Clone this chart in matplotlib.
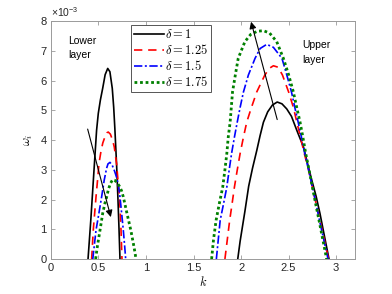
import matplotlib
matplotlib.use("Agg")
import matplotlib.pyplot as plt

# growth rate omega_i (units of 1e-3) vs wavenumber k
# lower-layer branch
k_low_1 = [0.39, 0.42, 0.45, 0.48, 0.498, 0.52, 0.544, 0.57, 0.597, 0.62, 0.645,
           0.66, 0.672, 0.69, 0.705, 0.716, 0.726]
w_low_1 = [0.0, 1.35, 2.85, 4.33, 4.9, 5.35, 5.74, 6.2, 6.41, 6.3, 5.74,
           5.1, 4.4, 3.2, 2.0, 1.0, 0.0]
k_low_125 = [0.428, 0.445, 0.46, 0.474, 0.49, 0.505, 0.525, 0.545, 0.568, 0.59,
             0.603, 0.625, 0.648, 0.666, 0.69, 0.705, 0.72, 0.73, 0.737, 0.747]
w_low_125 = [0.0, 0.97, 1.55, 2.09, 2.65, 3.21, 3.6, 3.9, 4.11, 4.25,
             4.27, 4.2, 4.0, 3.77, 3.21, 2.65, 2.09, 1.5, 0.97, 0.0]
k_low_15 = [0.44, 0.474, 0.505, 0.533, 0.56, 0.585, 0.60, 0.621, 0.645, 0.67,
            0.69, 0.709, 0.726, 0.745, 0.761, 0.775, 0.786]
w_low_15 = [0.0, 0.97, 1.55, 2.09, 2.65, 3.05, 3.2, 3.25, 3.15, 2.95,
            2.75, 2.5, 2.09, 1.5, 0.97, 0.45, 0.0]
k_low_175 = [0.47, 0.487, 0.516, 0.544, 0.566, 0.586, 0.605, 0.627, 0.649, 0.67,
             0.695, 0.72, 0.742, 0.761, 0.78, 0.80, 0.82, 0.84, 0.874, 0.895]
w_low_175 = [0.0, 0.4, 0.97, 1.53, 1.85, 2.09, 2.35, 2.55, 2.67, 2.65,
             2.57, 2.45, 2.3, 2.09, 1.82, 1.53, 1.25, 0.97, 0.4, 0.0]

# upper-layer branch
k_up_1 = [1.965, 1.99, 2.01, 2.04, 2.08, 2.12, 2.165, 2.20, 2.235, 2.28, 2.33,
          2.38, 2.43, 2.48, 2.53, 2.586, 2.656, 2.70, 2.744, 2.79, 2.83, 2.875, 2.925]
w_up_1 = [0.0, 0.6, 1.0, 1.6, 2.45, 3.05, 3.65, 4.15, 4.6, 4.95, 5.18,
          5.28, 5.22, 5.05, 4.8, 4.33, 3.77, 3.2, 2.65, 2.1, 1.53, 0.8, 0.0]
k_up_125 = [1.83, 1.855, 1.88, 1.905, 1.93, 1.96, 1.99, 2.025, 2.06, 2.105, 2.165,
            2.25, 2.30, 2.34, 2.39, 2.435, 2.50, 2.55, 2.586, 2.625, 2.665, 2.71,
            2.75, 2.79, 2.83, 2.875, 2.92]
w_up_125 = [0.0, 0.65, 1.3, 1.85, 2.42, 3.0, 3.55, 4.1, 4.61, 5.06, 5.62,
            6.19, 6.42, 6.5, 6.45, 6.19, 5.62, 5.1, 4.61, 4.1, 3.55, 3.0,
            2.42, 1.85, 1.3, 0.65, 0.0]
k_up_15 = [1.74, 1.76, 1.78, 1.815, 1.85, 1.875, 1.90, 1.93, 1.96, 1.99, 2.025,
           2.077, 2.147, 2.20, 2.27, 2.34, 2.43, 2.48, 2.53, 2.565, 2.60, 2.635,
           2.67, 2.71, 2.75, 2.79, 2.825, 2.87, 2.915]
w_up_15 = [0.0, 0.65, 1.3, 1.85, 2.42, 3.0, 3.55, 4.1, 4.61, 5.1, 5.62,
           6.19, 6.75, 7.08, 7.22, 7.12, 6.75, 6.2, 5.62, 5.1, 4.61, 4.1,
           3.55, 3.0, 2.42, 1.85, 1.3, 0.65, 0.0]
k_up_175 = [1.69, 1.71, 1.737, 1.77, 1.807, 1.83, 1.85, 1.865, 1.885, 1.91, 1.94,
            1.97, 2.04, 2.10, 2.17, 2.235, 2.30, 2.375, 2.445, 2.50, 2.55, 2.585,
            2.62, 2.65, 2.68, 2.715, 2.75, 2.785, 2.82, 2.86, 2.90]
w_up_175 = [0.0, 0.65, 1.3, 1.85, 2.42, 3.0, 3.55, 4.1, 4.61, 5.62, 6.2,
            6.75, 7.31, 7.55, 7.66, 7.68, 7.6, 7.31, 6.75, 6.2, 5.62, 5.1,
            4.61, 4.1, 3.55, 3.0, 2.42, 1.85, 1.3, 0.65, 0.0]

labels = [r"$\delta = 1$", r"$\delta = 1.25$", r"$\delta = 1.5$", r"$\delta = 1.75$"]

plt.rcParams["font.family"] = "Liberation Sans"
plt.rcParams["mathtext.fontset"] = "cm"

fig = plt.figure(figsize=(3.92, 2.94), dpi=100)
ax = fig.add_axes([0.130, 0.119, 0.776, 0.809])

styles = [
    dict(color="black", ls="-", lw=1.2),
    dict(color="#ff0000", ls=(0, (5, 3.5)), lw=1.2),
    dict(color="#0000ff", ls=(0, (5, 1.5, 1.2, 1.5)), lw=1.2),
    dict(color="#008000", ls=(0, (1, 1)), lw=2.0),
]
lows = [(k_low_1, w_low_1), (k_low_125, w_low_125), (k_low_15, w_low_15), (k_low_175, w_low_175)]
ups = [(k_up_1, w_up_1), (k_up_125, w_up_125), (k_up_15, w_up_15), (k_up_175, w_up_175)]
for (kl, wl), (ku, wu), st, lab in zip(lows, ups, styles, labels):
    ax.plot(kl, wl, label=lab, **st)
    ax.plot(ku, wu, **st)

# arrows showing the trend with delta
ax.annotate("", xy=(0.63, 1.41), xytext=(0.386, 4.37),
            arrowprops=dict(arrowstyle="-|>", color="black", lw=0.8,
                            mutation_scale=10, shrinkA=0, shrinkB=0))
ax.annotate("", xy=(2.105, 7.98), xytext=(2.38, 4.69),
            arrowprops=dict(arrowstyle="-|>", color="black", lw=0.8,
                            mutation_scale=10, shrinkA=0, shrinkB=0))

ax.text(0.18, 7.1, "Lower\nlayer", fontsize=7.5, va="center", ha="left", linespacing=1.6)
ax.text(2.64, 6.95, "Upper\nlayer", fontsize=7.5, va="center", ha="left", linespacing=1.6)

ax.set_xlim(0, 3.2)
ax.set_ylim(0, 8)
ax.set_xticks([0, 0.5, 1, 1.5, 2, 2.5, 3])
ax.set_xticklabels(["0", "0.5", "1", "1.5", "2", "2.5", "3"])
ax.set_yticks(range(9))
ax.tick_params(direction="in", top=True, right=True, length=3, width=0.6,
               labelsize=8, colors="#262626", pad=3)
for sp in ax.spines.values():
    sp.set_color("#9a9a9a")
    sp.set_linewidth(0.7)
ax.tick_params(color="#9a9a9a")

ax.text(0.0, 1.008, r"$\mathregular{\times10^{-3}}$", transform=ax.transAxes,
        fontsize=7.5, color="#262626", ha="left", va="bottom")
ax.set_xlabel(r"$k$", fontsize=9, labelpad=1)
ax.set_ylabel(r"$\omega_i$", fontsize=9, labelpad=4)

leg = ax.legend(loc="upper left", bbox_to_anchor=(0.262, 0.983), fontsize=9,
                handlelength=2.4, handletextpad=0.1, borderpad=0.25,
                labelspacing=0.15, borderaxespad=0, fancybox=False,
                framealpha=1)
leg.get_frame().set_edgecolor("#555555")
leg.get_frame().set_linewidth(0.7)

fig.savefig("out.png", dpi=100)
